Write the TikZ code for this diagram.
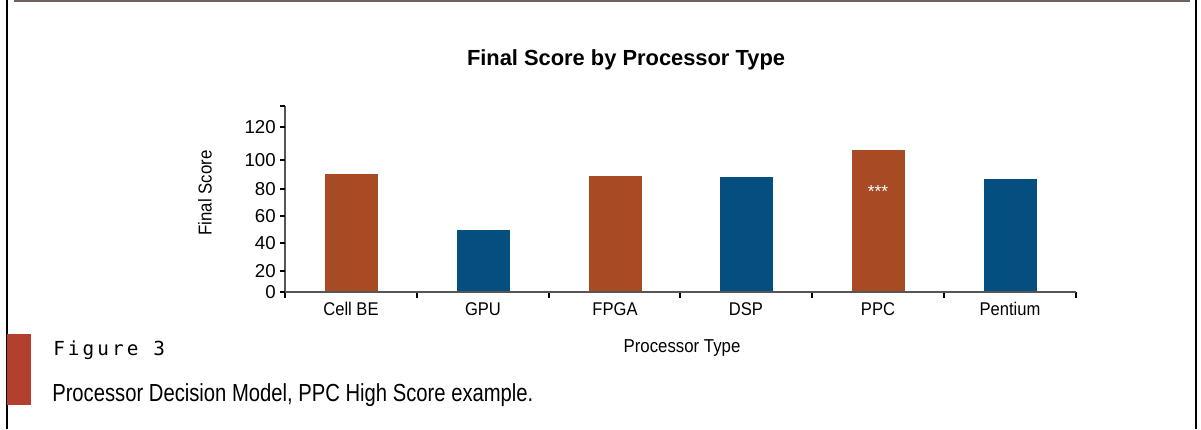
\documentclass[tikz,border=0pt]{standalone}
\usepackage{fontspec}
\setmainfont{Liberation Sans}
\newfontfamily\narrowfont{Liberation Sans}[FakeStretch=0.82]
\newfontfamily\semifont{Liberation Sans}[FakeStretch=0.9]
\newfontfamily\figfont{DejaVu Sans Mono}[LetterSpace=16]
\definecolor{barorange}{HTML}{A84A24}
\definecolor{barblue}{HTML}{044F80}
\definecolor{axisgray}{HTML}{555555}
\definecolor{framegray}{HTML}{6E6262}
\definecolor{tabred}{HTML}{B33F2E}
\begin{document}
\begin{tikzpicture}[x=0.75pt,y=-0.75pt,
  bar/.style={draw=none},
  orangebar/.style={bar,fill=barorange},
  bluebar/.style={bar,fill=barblue},
  axis/.style={draw=axisgray,line width=1.5pt},
  tickmark/.style={draw=black,line width=1pt},
  ticklabel/.style={font=\fontsize{14pt}{16pt}\selectfont,inner sep=0pt},
  catlabel/.style={font=\semifont\fontsize{13.8pt}{15pt}\selectfont,inner sep=0pt},
  axtitle/.style={font=\semifont\fontsize{14pt}{16pt}\selectfont,inner sep=0pt}]
\useasboundingbox (0,0) rectangle (1201,429);
% frame of the panel
\draw[line width=1.5pt] (7,0) -- (7,429);
\draw[line width=1.5pt] (1196,0) -- (1196,429);
\draw[framegray,line width=1.5pt] (14,1) -- (1190,1);
% title
\node[font=\bfseries\fontsize{16.4pt}{19pt}\selectfont,inner sep=0pt] (title) at (626,60) {Final Score by Processor Type};
% axes
\coordinate (o) at (285,292);
\coordinate (ytop) at (285,106);
\coordinate (xend) at (1076,292);
\draw[axis] (ytop) -- (o) -- (xend);
\draw[tickmark] (ytop) -- ++(-5,0);
% y ticks and labels
\foreach \v/\py in {120/127,100/160,80/189,60/216,40/243,20/271,0/292}{
  \draw[tickmark] (285,\py) -- ++(-5,0);
  \node[ticklabel,anchor=east] (y\v) at (276,\py) {\v};
}
% x ticks
\foreach \px in {285,417,549,680,812,944,1076}{
  \draw[tickmark] (\px,292) -- ++(0,6);
}
% bars
\fill[orangebar] (325,174) rectangle (378,292);
\fill[bluebar]   (457,230) rectangle (510,292);
\fill[orangebar] (589,176) rectangle (642,292);
\fill[bluebar]   (720,177) rectangle (773,292);
\fill[orangebar] (852,150) rectangle (905,292);
\fill[bluebar]   (984,179) rectangle (1037,292);
\draw[axis] (o) -- (xend);
\node[font=\fontsize{13pt}{14pt}\selectfont,text=white,inner sep=0pt] (stars) at (878,192) {***};
% category labels
\foreach \n/\px/\t in {c1/351/Cell BE,c2/483/GPU,c3/615/FPGA,c4/746/DSP,c5/878/PPC,c6/1010/Pentium}{
  \node[catlabel] (\n) at (\px,309) {\t};
}
% axis titles
\node[axtitle,rotate=90] (ytitle) at (205,193) {Final Score};
\node[axtitle] (xtitle) at (682,348) {Processor Type};
% caption
\fill[tabred] (7,334) rectangle (31,405);
\node[font=\figfont\fontsize{14.5pt}{16pt}\selectfont,anchor=west,inner sep=0pt] (fig) at (53,350) {Figure 3};
\node[font=\narrowfont\fontsize{18.5pt}{21pt}\selectfont,anchor=west,inner sep=0pt] (cap) at (52,395) {Processor Decision Model, PPC High Score example.};
\end{tikzpicture}
\end{document}
